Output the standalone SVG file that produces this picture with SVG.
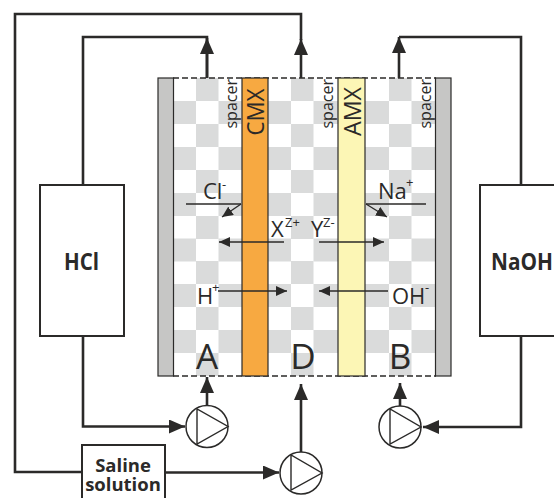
<svg xmlns="http://www.w3.org/2000/svg" width="554" height="498" viewBox="0 0 554 498">
<defs>
<style>
text{font-family:"Open Sans","Liberation Sans",sans-serif;fill:#2b2a29}
.b{font-weight:700;font-size:22.5px}
.s{font-weight:700;font-size:18.5px;text-anchor:middle}
.ion{font-size:22px}
.sup{font-size:13px}
.big{font-size:35px;text-anchor:middle}
.sp{font-size:16px}
.mem{font-size:24px}
.pipe{fill:none;stroke:#2b2a29;stroke-width:2.6}
.thin{fill:none;stroke:#2b2a29;stroke-width:1.4}
.box{fill:#fff;stroke:#2b2a29;stroke-width:2}
.pump{fill:#fff;stroke:#2b2a29;stroke-width:1.5}
.g{fill:#dadbdb}
</style>
<marker id="big" markerUnits="userSpaceOnUse" markerWidth="17" markerHeight="14" refX="16" refY="7" orient="auto"><path d="M0 0L16 7L0 14Z" fill="#2b2a29"/></marker>
<marker id="small" markerUnits="userSpaceOnUse" markerWidth="11" markerHeight="10" refX="11" refY="5" orient="auto"><path d="M0 0L11 5L0 10Z" fill="#2b2a29"/></marker>
<g id="row-a"><rect class="g" x="196" width="22.5" height="23"/><rect class="g" x="291" width="22.5" height="23"/><rect class="g" x="389" width="22.5" height="23"/></g>
<g id="row-b"><rect class="g" x="173" width="23" height="23"/><rect class="g" x="218.500" width="23.500" height="23"/><rect class="g" x="268" width="23" height="23"/><rect class="g" x="313.500" width="24.500" height="23"/><rect class="g" x="365" width="24" height="23"/><rect class="g" x="411.500" width="24.500" height="23"/></g>
</defs>
<g id="stack">
<rect x="158" y="78" width="293" height="298" fill="#fff"/>
<use href="#row-a" y="78"/><use href="#row-b" y="101"/><use href="#row-a" y="124"/><use href="#row-b" y="147"/><use href="#row-a" y="170"/><use href="#row-b" y="193"/><use href="#row-a" y="216"/><use href="#row-b" y="238.500"/><use href="#row-a" y="261"/><use href="#row-b" y="284"/><use href="#row-a" y="307"/><use href="#row-b" y="330"/><use href="#row-a" y="353"/>
<path d="M173 78H436M173 376H436" fill="none" stroke="#2b2a29" stroke-width="1.3" stroke-dasharray="6 3"/>
</g>
<g id="electrode-left"><rect x="158" y="78" width="15.500" height="298" fill="#c6c6c5" stroke="#2b2a29" stroke-width="1.2"/></g>
<g id="electrode-right"><rect x="435.500" y="78" width="15.500" height="298" fill="#c6c6c5" stroke="#2b2a29" stroke-width="1.2"/></g>
<g id="cmx"><rect x="242" y="78" width="26" height="298" fill="#f7a941" stroke="#2b2a29" stroke-width="1.2"/><text class="mem" transform="translate(264 135.500) rotate(-90)" textLength="47" lengthAdjust="spacingAndGlyphs">CMX</text></g>
<g id="amx"><rect x="338" y="78" width="27" height="298" fill="#fcf6b5" stroke="#2b2a29" stroke-width="1.2"/><text class="mem" transform="translate(361 136) rotate(-90)" textLength="49" lengthAdjust="spacingAndGlyphs">AMX</text></g>
<g id="spacers">
<text class="sp" transform="translate(237 128.500) rotate(-90)">spacer</text>
<text class="sp" transform="translate(333 128.500) rotate(-90)">spacer</text>
<text class="sp" transform="translate(431 128.500) rotate(-90)">spacer</text>
</g>
<g id="connectors">
<path class="pipe" d="M83 185V37H207V78" />
<path class="pipe" d="M207 78V38" marker-end="url(#big)"/>
<path class="pipe" d="M301 78V39" marker-end="url(#big)"/>
<path class="pipe" d="M301 40V14H15V472H82"/>
<path class="pipe" d="M399 78V37" marker-end="url(#big)"/>
<path class="pipe" d="M399 37H521V185"/>
<path class="pipe" d="M83 336V426.500H185" marker-end="url(#big)"/>
<path class="pipe" d="M521 336V427H423" marker-end="url(#big)"/>
<path class="pipe" d="M165 472.500H279" marker-end="url(#big)"/>
<path class="pipe" d="M207 406V377" marker-end="url(#big)"/>
<path class="pipe" d="M301 452V384" marker-end="url(#big)"/>
<path class="pipe" d="M400 406V383" marker-end="url(#big)"/>
<path class="thin" d="M186 204H241"/>
<path class="thin" d="M241 204L222 217" marker-end="url(#small)"/>
<path class="thin" d="M426 204H366"/>
<path class="thin" d="M366 204L387 217" marker-end="url(#small)"/>
<path class="thin" d="M284 242H219" marker-end="url(#small)"/>
<path class="thin" d="M319 242H384" marker-end="url(#small)"/>
<path class="thin" d="M218 291H287" marker-end="url(#small)"/>
<path class="thin" d="M388 291H319" marker-end="url(#small)"/>
</g>
<g id="hcl"><rect class="box" x="40" y="185" width="84" height="151"/><text class="b" x="64" y="270" textLength="35" lengthAdjust="spacingAndGlyphs">HCl</text></g>
<g id="naoh"><rect class="box" x="480" y="185" width="80" height="151"/><text class="b" x="491" y="270" textLength="62" lengthAdjust="spacingAndGlyphs">NaOH</text></g>
<g id="saline"><rect class="box" x="82" y="445" width="83" height="60"/><text class="s" x="123" y="472">Saline</text><text class="s" x="123" y="490.500">solution</text></g>
<g id="pump-a"><circle class="pump" cx="207" cy="426.500" r="21"/><path class="thin" d="M197 409V444L228 426.500Z"/></g>
<g id="pump-d"><circle class="pump" cx="301" cy="473" r="21"/><path class="thin" d="M291 455V490L322 473Z"/></g>
<g id="pump-b"><circle class="pump" cx="400" cy="427" r="21"/><path class="thin" d="M390 409V444L421 427Z"/></g>
<g id="labels">
<text class="ion" x="203" y="199">Cl</text><text class="sup" x="222" y="189">-</text>
<text class="ion" x="378" y="199">Na</text><text class="sup" x="406" y="187">+</text>
<text class="ion" x="271" y="237">X</text><text class="sup" x="285" y="227">Z+</text>
<text class="ion" x="311" y="237">Y</text><text class="sup" x="323" y="227">Z-</text>
<text class="ion" x="197" y="304">H</text><text class="sup" x="212" y="292">+</text>
<text class="ion" x="392" y="304">OH</text><text class="sup" x="425" y="292">-</text>
<text class="big" x="207" y="369">A</text>
<text class="big" x="303" y="369">D</text>
<text class="big" x="400" y="369">B</text>
</g>
</svg>
